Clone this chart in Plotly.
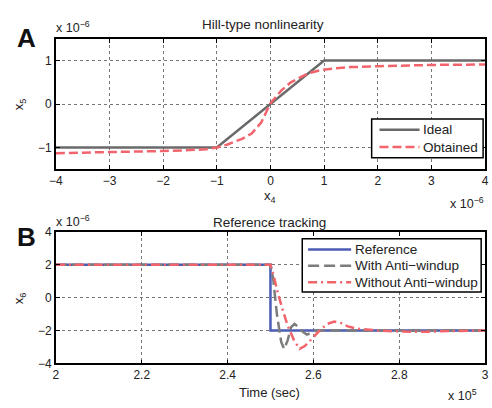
import plotly.graph_objects as go

# Panel A data (units: x 1e-6)
ideal_x = [-4, -1, 1, 4]
ideal_y = [-1, -1, 1, 1]
obt_x = [-4, -3, -2, -1.5, -1.2, -1.0, -0.8, -0.53, -0.35, -0.17, 0.0, 0.2, 0.38, 0.69, 0.93, 1.2, 1.5, 2.0, 3.0, 4.0]
obt_y = [-1.13, -1.11, -1.08, -1.06, -1.04, -1.0, -0.93, -0.8, -0.68, -0.42, 0.02, 0.31, 0.5, 0.7, 0.78, 0.82, 0.85, 0.87, 0.9, 0.91]

# Panel B data (time x 1e5, value x 1e-6)
ref_t = [2.0, 2.5, 2.5, 3.0]
ref_y = [2, 2, -2, -2]
aw_t = [2.0, 2.5, 2.506, 2.515, 2.525, 2.532, 2.54, 2.548, 2.556, 2.566, 2.576, 2.585, 2.594, 2.605, 2.62, 3.0]
aw_y = [2, 2, 1.2, -1.0, -2.7, -3.12, -2.6, -1.8, -1.6, -1.8, -2.1, -2.25, -2.15, -2.02, -2.0, -2.0]
naw_t = [2.0, 2.5, 2.506, 2.517, 2.528, 2.54, 2.555, 2.568, 2.58, 2.6, 2.615, 2.632, 2.649, 2.665, 2.68, 2.7, 2.72, 2.75, 2.8, 2.86, 2.92, 3.0]
naw_y = [2, 2, 1.5, 0.3, -0.7, -1.7, -2.6, -3.12, -2.95, -2.4, -2.0, -1.6, -1.45, -1.55, -1.75, -1.88, -1.94, -2.0, -2.06, -2.08, -2.03, -2.0]

# Tick values
a_xticks = [-4, -3, -2, -1, 0, 1, 2, 3, 4]
a_yticks = [-1, 0, 1]
b_xticks = [2, 2.2, 2.4, 2.6, 2.8, 3]
b_xticktext = ["2", "2.2", "2.4", "2.6", "2.8", "3"]
b_yticks = [-4, -2, 0, 2, 4]

W, H = 492, 408
FONT = "Liberation Sans, Arial, sans-serif"
def px(x):
    return x / W
def py(y):
    return 1 - y / H

C_IDEAL = "#6a6a6a"
C_RED = "#f2646c"
C_BLUE = "#4a5cb4"
C_GRAY = "#7c7c7c"
D_OBT = "9px,4px"
D_AW = "11px,5px"
D_NAW = "9px,4px,2px,4px"

fig = go.Figure()
fig.add_trace(go.Scatter(x=ideal_x, y=ideal_y, mode="lines", name="Ideal",
                         line=dict(color=C_IDEAL, width=2.5), xaxis="x", yaxis="y"))
fig.add_trace(go.Scatter(x=obt_x, y=obt_y, mode="lines", name="Obtained",
                         line=dict(color=C_RED, width=2.5, dash=D_OBT), xaxis="x", yaxis="y"))
fig.add_trace(go.Scatter(x=ref_t, y=ref_y, mode="lines", name="Reference",
                         line=dict(color=C_BLUE, width=2.5), xaxis="x2", yaxis="y2"))
fig.add_trace(go.Scatter(x=aw_t, y=aw_y, mode="lines", name="With Anti\u2212windup",
                         line=dict(color=C_GRAY, width=2.5, dash=D_AW), xaxis="x2", yaxis="y2"))
fig.add_trace(go.Scatter(x=naw_t, y=naw_y, mode="lines", name="Without Anti\u2212windup",
                         line=dict(color=C_RED, width=2.5, dash=D_NAW), xaxis="x2", yaxis="y2"))

axis_common = dict(showline=True, linecolor="black", linewidth=1.5, mirror="ticks",
                   ticks="inside", ticklen=4, tickcolor="black", showgrid=True,
                   gridcolor="#777777", griddash="dot", gridwidth=1, zeroline=False,
                   ticklabeloverflow="allow",
                   tickfont=dict(size=12, color="#222222", family=FONT))

fig.update_layout(
    width=W, height=H,
    margin=dict(l=0, r=0, t=0, b=0),
    plot_bgcolor="white", paper_bgcolor="white",
    font=dict(family=FONT, size=12, color="#222222"),
    showlegend=False,
    xaxis=dict(domain=[px(50), px(489)], range=[-4, 4], tickvals=a_xticks, anchor="y", **axis_common),
    yaxis=dict(domain=[py(168), py(33)], range=[-1.5, 1.5], tickvals=a_yticks, anchor="x", **axis_common),
    xaxis2=dict(domain=[px(50), px(489)], range=[2, 3], tickvals=b_xticks, ticktext=b_xticktext,
                anchor="y2", **axis_common),
    yaxis2=dict(domain=[py(369), py(233)], range=[-4, 4], tickvals=b_yticks, anchor="x2", **axis_common),
)

ann = []
shapes = []
def add(text, x, y, size=12, xa="center", ya="middle", angle=0, color="#222222"):
    ann.append(dict(text=text, x=px(x), y=py(y), xref="paper", yref="paper", showarrow=False,
                    xanchor=xa, yanchor=ya, textangle=angle,
                    font=dict(size=size, color=color, family=FONT)))

def legend_box(x0, x1, y0, y1, entries, lx0, lx1, tx, ys):
    shapes.append(dict(type="rect", xref="paper", yref="paper", x0=px(x0), x1=px(x1), y0=py(y1), y1=py(y0),
                       fillcolor="white", line=dict(color="black", width=1.5), layer="above"))
    for (name, color, dash), yy in zip(entries, ys):
        shapes.append(dict(type="line", xref="paper", yref="paper", x0=px(lx0), x1=px(lx1), y0=py(yy), y1=py(yy),
                           line=dict(color=color, width=2.5, dash=dash), layer="above"))
        add(name, tx, yy, size=13.5, xa="left")

legend_box(373, 487, 116, 156,
           [("Ideal", C_IDEAL, "solid"), ("Obtained", C_RED, D_OBT)],
           381, 422, 423, [127, 145])
legend_box(302, 485, 240, 295,
           [("Reference", C_BLUE, "solid"), ("With Anti\u2212windup", C_GRAY, D_AW),
            ("Without Anti\u2212windup", C_RED, D_NAW)],
           308, 352, 354, [251, 268, 285])

add("Hill-type nonlinearity", 262, 18, size=13.5)
add("Reference tracking", 268, 223, size=13.5)
add("<b>A</b>", 20, 32, size=26, color="#111111")
add("<b>B</b>", 20, 238, size=26, color="#111111")
add("x 10<sup>\u22126</sup>", 48, 21, size=12.5, xa="left")
add("x 10<sup>\u22126</sup>", 48, 222, size=12.5, xa="left")
add("x 10<sup>\u22126</sup>", 451, 203, size=12.5, xa="left")
add("x 10<sup>5</sup>", 449, 402, size=12.5, xa="left")
add("x<sub>4</sub>", 269, 196, size=13)
add("Time (sec)", 269, 399, size=13)
add("x<sub>5</sub>", 13, 101, size=13, angle=-90)
add("x<sub>6</sub>", 13, 302, size=13, angle=-90)
fig.update_layout(annotations=ann, shapes=shapes)

fig.write_html("out.html")
